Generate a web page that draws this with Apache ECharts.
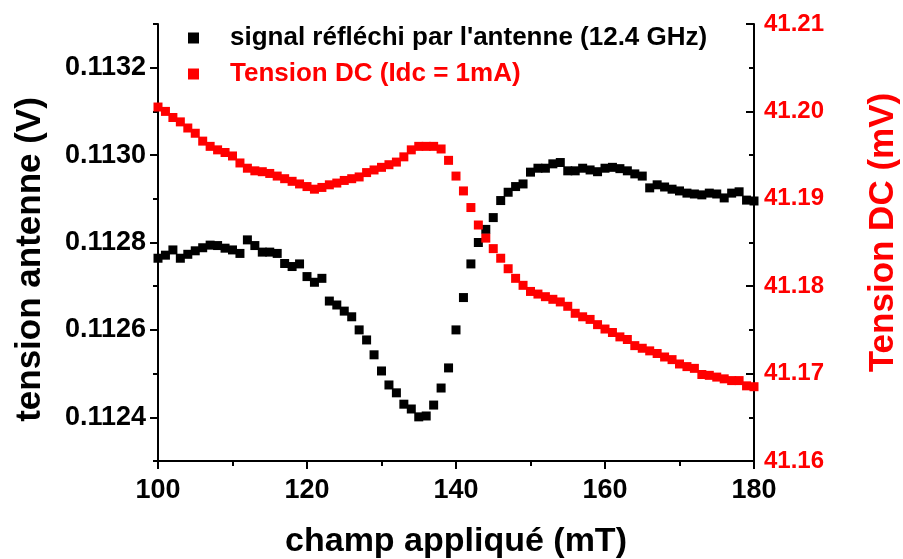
<!DOCTYPE html>
<html>
<head>
<meta charset="utf-8">
<script src="https://cdn.jsdelivr.net/npm/echarts@6/dist/echarts.min.js"></script>
<style>html,body{margin:0;padding:0;background:#fff}#c{width:903px;height:559px}</style>
</head>
<body>
<div id="c"></div>
<script>
var field = [];
for (var f = 100; f <= 180; f++) field.push(f);

var signalAntenne = [
0.112764,0.112771,0.112783,0.112764,0.112773,0.112781,0.112788,0.112794,0.112793,0.112787,
0.112783,0.112775,0.112806,0.112793,0.112778,0.112778,0.112775,0.112752,0.112745,0.112751,
0.112722,0.112709,0.112718,0.112666,0.112657,0.112643,0.112630,0.112600,0.112577,0.112543,
0.112506,0.112474,0.112456,0.112430,0.112419,0.112401,0.112403,0.112428,0.112467,0.112513,
0.112600,0.112674,0.112751,0.112800,0.112830,0.112857,0.112896,0.112915,0.112928,0.112934,
0.112961,0.112970,0.112970,0.112980,0.112983,0.112964,0.112964,0.112970,0.112966,0.112962,
0.112970,0.112972,0.112969,0.112964,0.112957,0.112952,0.112925,0.112932,0.112927,0.112922,
0.112918,0.112913,0.112911,0.112909,0.112913,0.112911,0.112902,0.112913,0.112916,0.112897,
0.112895
];

var tensionDC = [
41.2005,41.2000,41.1993,41.1988,41.1981,41.1975,41.1966,41.1960,41.1956,41.1953,
41.1949,41.1941,41.1935,41.1932,41.1931,41.1929,41.1926,41.1923,41.1920,41.1917,
41.1914,41.1911,41.1913,41.1916,41.1918,41.1921,41.1923,41.1925,41.1930,41.1933,
41.1936,41.1939,41.1942,41.1948,41.1956,41.1960,41.1960,41.1960,41.1957,41.1944,
41.1926,41.1909,41.1890,41.1870,41.1855,41.1843,41.1832,41.1820,41.1809,41.1801,
41.1794,41.1791,41.1788,41.1785,41.1782,41.1777,41.1769,41.1765,41.1762,41.1756,
41.1751,41.1747,41.1742,41.1739,41.1732,41.1729,41.1726,41.1723,41.1719,41.1716,
41.1711,41.1708,41.1706,41.1699,41.1698,41.1696,41.1694,41.1692,41.1692,41.1686,
41.1685
];

var leftLabels = [0.1124, 0.1126, 0.1128, 0.1130, 0.1132];
var leftMinor = [0.1123, 0.1125, 0.1127, 0.1129, 0.1131, 0.1133];

var nameSignal = "signal réfléchi par l'antenne (12.4 GHz)";
var nameDC = "Tension DC (Idc = 1mA)";

var FONT = "'Liberation Sans', Arial, Helvetica, sans-serif";
var RED = '#ff0000';

function pairs(xs, ys) { return xs.map(function (x, i) { return [x, ys[i]]; }); }

var chart = echarts.init(document.getElementById('c'), null, {renderer: 'canvas'});
chart.setOption({
  animation: false,
  backgroundColor: '#ffffff',
  textStyle: {fontFamily: FONT},
  grid: {left: 158, right: 149, top: 24, bottom: 98, containLabel: false, outerBoundsMode: 'none'},
  legend: {
    orient: 'vertical', left: 183, top: 20, itemWidth: 11, itemHeight: 11, itemGap: 10,
    icon: 'rect',
    textStyle: {fontFamily: FONT, fontSize: 26, fontWeight: 'bold', padding: [0, 0, 0, 26]},
    data: [
      {name: nameSignal, textStyle: {color: '#000'}},
      {name: nameDC, textStyle: {color: RED}}
    ]
  },
  xAxis: {
    type: 'value', min: 100, max: 180, interval: 20,
    name: 'champ appliqué (mT)', nameLocation: 'middle', nameGap: 64,
    nameTextStyle: {fontFamily: FONT, fontSize: 34, fontWeight: 'bold', color: '#000'},
    axisLine: {show: true, onZero: false, lineStyle: {color: '#000', width: 2}},
    axisTick: {show: true, length: 8, lineStyle: {color: '#000', width: 2}},
    minorTick: {show: true, splitNumber: 2, length: 5, lineStyle: {color: '#000', width: 2}},
    splitLine: {show: false},
    axisLabel: {fontFamily: FONT, fontSize: 27, fontWeight: 'bold', color: '#000', margin: 16}
  },
  yAxis: [
    {
      type: 'value', position: 'left', min: 0.1123, max: 0.1133,
      name: 'tension antenne (V)', nameLocation: 'middle', nameGap: 110,
      nameTextStyle: {fontFamily: FONT, fontSize: 35, fontWeight: 'bold', color: '#000', padding: [0, 34, 0, 0]},
      axisLine: {show: true, onZero: false, lineStyle: {color: '#000', width: 2}},
      axisTick: {show: true, length: 8, customValues: leftLabels, lineStyle: {color: '#000', width: 2}},
      axisLabel: {customValues: leftLabels, fontFamily: FONT, fontSize: 27, fontWeight: 'bold', color: '#000', margin: 12,
        formatter: function (v) { return v.toFixed(4); }},
      splitLine: {show: false}
    },
    {
      type: 'value', position: 'right', min: 41.16, max: 41.21, interval: 0.01,
      name: 'Tension DC (mV)', nameLocation: 'middle', nameGap: 112,
      nameTextStyle: {fontFamily: FONT, fontSize: 35, fontWeight: 'bold', color: RED, padding: [0, 0, 0, 20]},
      axisLine: {show: true, onZero: false, lineStyle: {color: '#000', width: 2}},
      axisTick: {show: true, inside: true, length: 8, lineStyle: {color: '#000', width: 2}},
      minorTick: {show: true, splitNumber: 2, length: 5, lineStyle: {color: '#000', width: 2}},
      axisLabel: {fontFamily: FONT, fontSize: 24, fontWeight: 'bold', color: RED, margin: 10,
        formatter: function (v) { return v.toFixed(2); }},
      splitLine: {show: false}
    },
    {
      type: 'value', position: 'left', min: 0.1123, max: 0.1133,
      axisLine: {show: false},
      axisTick: {show: true, length: 5, customValues: leftMinor, lineStyle: {color: '#000', width: 2}},
      axisLabel: {show: false},
      splitLine: {show: false}
    }
  ],
  series: [
    {
      name: nameSignal, type: 'scatter', yAxisIndex: 0, symbol: 'rect', symbolSize: 9,
      itemStyle: {color: '#000', opacity: 1}, data: pairs(field, signalAntenne)
    },
    {
      name: nameDC, type: 'scatter', yAxisIndex: 1, symbol: 'rect', symbolSize: 9,
      itemStyle: {color: RED, opacity: 1}, data: pairs(field, tensionDC)
    }
  ]
});
</script>
</body>
</html>
